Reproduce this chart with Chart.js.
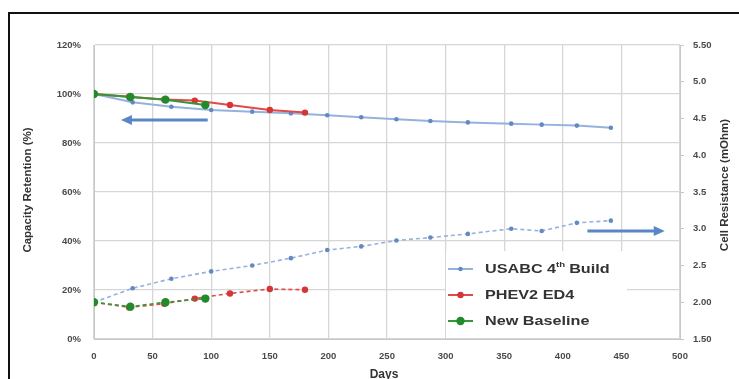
<!DOCTYPE html>
<html>
<head>
<meta charset="utf-8">
<script src="https://cdn.jsdelivr.net/npm/chart.js@4.4.1/dist/chart.umd.min.js"></script>
<style>
html,body{margin:0;padding:0;background:#fff;}
#wrap{position:relative;width:739px;height:379px;}
canvas{display:block;}
</style>
</head>
<body>
<div id="wrap"><canvas id="c" width="739" height="379"></canvas></div>
<script>
// ---- data ----
const usabcDays = [0, 33, 66, 100, 135, 168, 199, 228, 258, 287, 319, 356, 382, 412, 441];
const usabcCapacity = [100, 96.6, 94.8, 93.5, 92.8, 92.1, 91.3, 90.5, 89.7, 89.0, 88.4, 87.9, 87.5, 87.1, 86.2];
const usabcResistance = [2.0, 2.19, 2.32, 2.42, 2.50, 2.60, 2.71, 2.76, 2.84, 2.88, 2.93, 3.0, 2.97, 3.08, 3.11];

const phevDays = [0, 30, 60, 86, 116, 150, 180];
const phevCapacity = [100, 98.9, 97.8, 97.3, 95.5, 93.5, 92.4];
const phevResistance = [2.0, 1.93, 1.98, 2.05, 2.12, 2.18, 2.17];

const baseDays = [0, 31, 61, 95];
const baseCapacity = [100, 98.8, 97.7, 95.5];
const baseResistance = [2.0, 1.94, 2.0, 2.05];

const seriesNames = ['USABC 4th Build', 'PHEV2 ED4', 'New Baseline'];
const leftTickLabels = ['0%', '20%', '40%', '60%', '80%', '100%', '120%'];
const rightTickLabels = ['1.50', '2.00', '2.5', '3.0', '3.5', '4.0', '4.5', '5.0', '5.50'];
const xTickLabels = ['0', '50', '100', '150', '200', '250', '300', '350', '400', '450', '500'];

// ---- styles ----
const BLUE = '#93b2de', BLUE_PT = '#6489c2';
const RED = '#e04a4a', RED_PT = '#d43535';
const GREEN = '#35973a', GREEN_PT = '#238a2a';

function pts(xs, ys) { return xs.map((x, i) => ({x: x, y: ys[i]})); }

function ds(label, xs, ys, axis, line, pt, r, dashed, order) {
  return {
    label: label, data: pts(xs, ys), yAxisID: axis,
    borderColor: line, backgroundColor: pt, pointBackgroundColor: pt, pointBorderColor: pt,
    pointRadius: r, pointBorderWidth: 0, borderWidth: dashed ? 1.6 : 2,
    borderDash: dashed ? [4, 3] : [], tension: 0, order: order
  };
}

const datasets = [
  ds(seriesNames[0], usabcDays, usabcCapacity, 'y', BLUE, BLUE_PT, 2.3, false, 2),
  ds(seriesNames[1], phevDays, phevCapacity, 'y', RED, RED_PT, 3.2, false, 1),
  ds(seriesNames[2], baseDays, baseCapacity, 'y', GREEN, GREEN_PT, 4.2, false, 0),
  ds(seriesNames[0], usabcDays, usabcResistance, 'y1', BLUE, BLUE_PT, 2.3, true, 2),
  ds(seriesNames[1], phevDays, phevResistance, 'y1', RED, RED_PT, 3.2, true, 1),
  ds(seriesNames[2], baseDays, baseResistance, 'y1', GREEN, GREEN_PT, 4.2, true, 0)
];

const TICK_FONT = {family: 'Liberation Sans, Arial, sans-serif', size: 9.5, weight: 'bold'};
const TICK_COLOR = '#4a4a4a';
const GRID = '#d6d6d6';
const FONT = 'Liberation Sans, Arial, sans-serif';

function stretchedText(ctx, text, x, y, sx) {
  ctx.save();
  ctx.translate(x, y);
  ctx.scale(sx, 1);
  ctx.fillText(text, 0, 0);
  const w = ctx.measureText(text).width * sx;
  ctx.restore();
  return w;
}

const decor = {
  id: 'decor',
  beforeDraw(chart) {
    const ctx = chart.ctx;
    ctx.save();
    ctx.fillStyle = '#fff';
    ctx.fillRect(0, 0, chart.width, chart.height);
    ctx.restore();
  },
  afterDraw(chart) {
    const ctx = chart.ctx;
    const xs = chart.scales.x, ys = chart.scales.y, y1 = chart.scales.y1;
    ctx.save();
    // frame
    ctx.strokeStyle = '#111';
    ctx.lineWidth = 2;
    ctx.beginPath();
    ctx.moveTo(9, 379); ctx.lineTo(9, 13); ctx.lineTo(739, 13);
    ctx.stroke();

    // arrows
    function arrow(x1, y1p, x2, y2p) {
      ctx.strokeStyle = '#5b86c6';
      ctx.fillStyle = '#5b86c6';
      ctx.lineWidth = 3;
      const dir = Math.sign(x2 - x1);
      ctx.beginPath();
      ctx.moveTo(x1, y1p); ctx.lineTo(x2 - dir * 9, y2p);
      ctx.stroke();
      ctx.beginPath();
      ctx.moveTo(x2, y2p);
      ctx.lineTo(x2 - dir * 11, y2p - 5);
      ctx.lineTo(x2 - dir * 11, y2p + 5);
      ctx.closePath();
      ctx.fill();
    }
    arrow(xs.getPixelForValue(97), ys.getPixelForValue(89.4), xs.getPixelForValue(23), ys.getPixelForValue(89.4));
    arrow(xs.getPixelForValue(421), y1.getPixelForValue(2.97), xs.getPixelForValue(487), y1.getPixelForValue(2.97));

    // legend
    const lx = 446, ly = 251, lw = 181, lh = 87;
    ctx.fillStyle = '#fff';
    ctx.fillRect(lx, ly, lw, lh);
    const rows = [
      {c: BLUE, p: BLUE_PT, r: 2.3, y: 269},
      {c: RED, p: RED_PT, r: 3.2, y: 295},
      {c: GREEN, p: GREEN_PT, r: 4.2, y: 321}
    ];
    ctx.textBaseline = 'middle';
    const SX = 1.2;
    rows.forEach((r, i) => {
      ctx.strokeStyle = r.c; ctx.lineWidth = 2;
      ctx.beginPath(); ctx.moveTo(448, r.y); ctx.lineTo(473, r.y); ctx.stroke();
      ctx.fillStyle = r.p;
      ctx.beginPath(); ctx.arc(460.5, r.y, r.r, 0, Math.PI * 2); ctx.fill();
      ctx.fillStyle = '#333';
      ctx.font = 'bold 13.5px ' + FONT;
      if (i === 0) {
        let x = 485;
        x += stretchedText(ctx, 'USABC 4', x, r.y, SX);
        ctx.font = 'bold 8px ' + FONT;
        x += stretchedText(ctx, 'th', x, r.y - 4, SX) + 4;
        ctx.font = 'bold 13.5px ' + FONT;
        stretchedText(ctx, 'Build', x, r.y, SX);
      } else {
        stretchedText(ctx, seriesNames[i], 485, r.y, SX);
      }
    });

    // axis titles
    ctx.fillStyle = '#333';
    ctx.font = 'bold 11.5px ' + FONT;
    ctx.textAlign = 'center';
    ctx.textBaseline = 'middle';
    ctx.save();
    ctx.translate(28, 190); ctx.rotate(-Math.PI / 2);
    ctx.fillText('Capacity Retention (%)', 0, 0);
    ctx.restore();
    ctx.save();
    ctx.translate(725, 185); ctx.rotate(-Math.PI / 2);
    ctx.fillText('Cell Resistance (mOhm)', 0, 0);
    ctx.restore();
    ctx.font = 'bold 12px ' + FONT;
    ctx.fillText('Days', 384, 375);
    ctx.restore();
  }
};

new Chart(document.getElementById('c'), {
  type: 'line',
  data: {datasets: datasets},
  plugins: [decor],
  options: {
    responsive: false,
    animation: false,
    layout: {padding: {left: 0, right: 0, top: 45, bottom: 0}},
    plugins: {legend: {display: false}, tooltip: {enabled: false}},
    scales: {
      x: {
        type: 'linear', min: 0, max: 500,
        afterFit(s) { s.height = 40; },
        ticks: {stepSize: 50, padding: 12, font: TICK_FONT, color: TICK_COLOR,
          callback: (v) => xTickLabels[Math.round(v / 50)]},
        grid: {color: GRID, lineWidth: 1.3, drawTicks: false},
        border: {color: '#c8c8c8'}
      },
      y: {
        position: 'left', min: 0, max: 120,
        afterFit(s) { s.width = 94; },
        ticks: {stepSize: 20, padding: 13, font: TICK_FONT, color: TICK_COLOR,
          callback: (v) => leftTickLabels[Math.round(v / 20)]},
        grid: {color: GRID, lineWidth: 1.3, drawTicks: false},
        border: {color: '#c8c8c8'}
      },
      y1: {
        position: 'right', min: 1.5, max: 5.5,
        afterFit(s) { s.width = 59; },
        ticks: {stepSize: 0.5, padding: 9, font: TICK_FONT, color: TICK_COLOR,
          callback: (v) => rightTickLabels[Math.round((v - 1.5) / 0.5)]},
        grid: {drawOnChartArea: false, drawTicks: true, tickLength: 4, color: '#c8c8c8'},
        border: {color: '#c8c8c8'}
      }
    }
  }
});
</script>
</body>
</html>
